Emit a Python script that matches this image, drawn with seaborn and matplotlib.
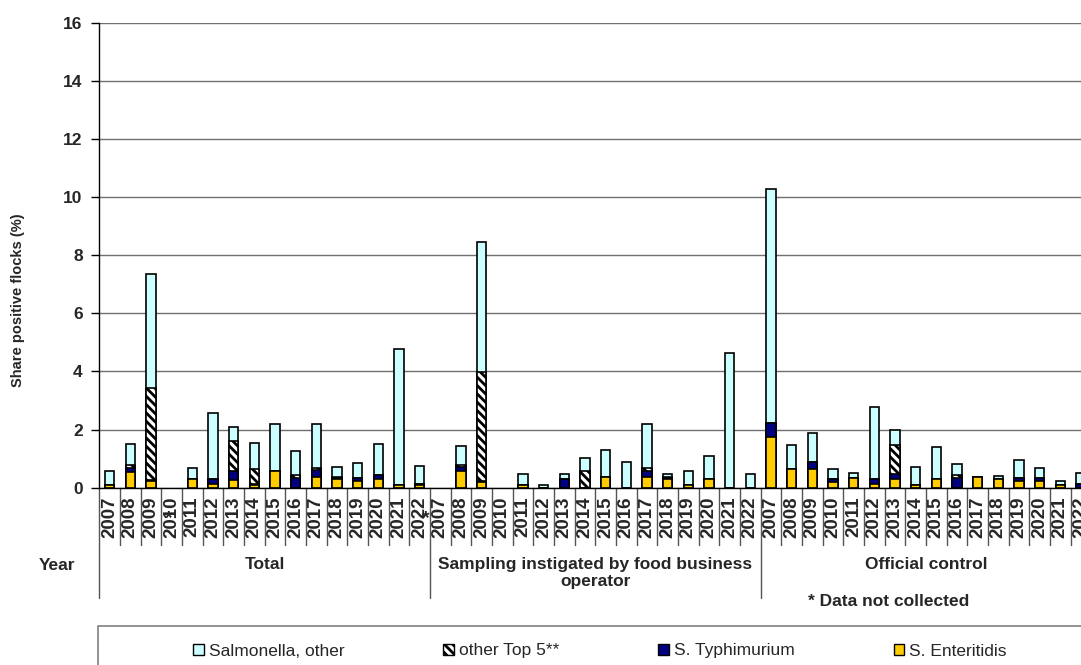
import numpy as np
import pandas as pd
import seaborn as sns
import matplotlib.pyplot as plt
import matplotlib.transforms as mtransforms
from matplotlib.patches import Patch, Rectangle
from matplotlib import rcParams

nan = np.nan
years = [str(y) for y in range(2007, 2023)]
groups = ["Total", "Sampling instigated by food business\noperator", "Official control"]
series = ["Salmonella, other", "other Top 5**", "S. Typhimurium", "S. Enteritidis"]

# share positive flocks (%), one list per group, 2007-2022
ent_total = [0.08, 0.54, 0.22, nan, 0.30, 0.13, 0.27, 0.10, 0.57, 0.00, 0.37, 0.30, 0.22, 0.31, 0.10, 0.10]
typh_total = [0.03, 0.14, 0.05, nan, 0.00, 0.17, 0.30, 0.03, 0.00, 0.34, 0.25, 0.02, 0.11, 0.14, 0.00, 0.03]
top5_total = [0.00, 0.09, 3.16, nan, 0.00, 0.00, 1.02, 0.51, 0.00, 0.09, 0.06, 0.04, 0.00, 0.00, 0.00, 0.00]
other_total = [0.47, 0.72, 3.93, nan, 0.38, 2.27, 0.50, 0.91, 1.62, 0.82, 1.52, 0.34, 0.52, 1.06, 4.66, 0.60]

ent_fbo = [nan, 0.56, 0.18, nan, 0.09, 0.00, 0.00, 0.00, 0.38, 0.00, 0.37, 0.30, 0.09, 0.30, 0.00, 0.00]
typh_fbo = [nan, 0.15, 0.05, nan, 0.00, 0.00, 0.30, 0.00, 0.00, 0.00, 0.21, 0.03, 0.00, 0.00, 0.00, 0.00]
top5_fbo = [nan, 0.08, 3.76, nan, 0.00, 0.00, 0.00, 0.58, 0.00, 0.00, 0.10, 0.05, 0.00, 0.00, 0.00, 0.00]
other_fbo = [nan, 0.66, 4.46, nan, 0.38, 0.09, 0.17, 0.43, 0.91, 0.88, 1.51, 0.09, 0.48, 0.78, 4.62, 0.47]

ent_official = [1.76, 0.65, 0.66, 0.18, 0.33, 0.13, 0.30, 0.10, 0.30, 0.00, 0.38, 0.30, 0.22, 0.22, 0.10, 0.00]
typh_official = [0.46, 0.00, 0.23, 0.13, 0.00, 0.17, 0.18, 0.00, 0.00, 0.33, 0.00, 0.00, 0.11, 0.11, 0.00, 0.13]
top5_official = [0.00, 0.00, 0.00, 0.00, 0.00, 0.00, 1.00, 0.00, 0.00, 0.11, 0.00, 0.00, 0.00, 0.00, 0.00, 0.00]
other_official = [8.05, 0.81, 0.99, 0.33, 0.17, 2.49, 0.50, 0.60, 1.10, 0.36, 0.00, 0.09, 0.63, 0.34, 0.14, 0.37]

# years marked "*" (data not collected): (group index, year, label offset)
not_collected = [(0, "2010", -0.15), (1, "2007", -0.7)]

ent = [ent_total, ent_fbo, ent_official]
typh = [typh_total, typh_fbo, typh_official]
top5 = [top5_total, top5_fbo, top5_official]
other = [other_total, other_fbo, other_official]

rows = []
for gi in range(3):
    for i, y in enumerate(years):
        rows.append({"key": f"{gi}-{y}", "year": y, "ent": ent[gi][i], "typh": typh[gi][i],
                     "top5": top5[gi][i], "other": other[gi][i]})
df = pd.DataFrame(rows)
keys = list(df["key"])
df = df.dropna()
df["c_ent"] = df["ent"]
df["c_typh"] = df["c_ent"] + df["typh"]
df["c_top5"] = df["c_typh"] + df["top5"]
df["c_other"] = df["c_top5"] + df["other"]

sns.set_theme(style="white")
rcParams['font.family'] = ['Liberation Sans', 'DejaVu Sans']
rcParams['hatch.linewidth'] = 2.0

fig = plt.figure(figsize=(10.81, 6.65), dpi=100)
W, H = 1081, 665
ax = fig.add_axes([99.3 / W, 1 - 487.7 / H, 1 - 99.3 / W, 465 / H])

colors = ["#CCFFFF", "white", "#000080", "#FFCC00"]
hatches = [None, "\\\\\\\\", None, None]
# overlapping cumulative bars -> stacked look
for col, c, h in zip(["c_other", "c_top5", "c_typh", "c_ent"], colors, hatches):
    sns.barplot(data=df, x="key", y=col, order=keys, color=c, saturation=1, width=0.45,
                edgecolor="black", linewidth=1.2, hatch=h, errorbar=None, ax=ax)

ax.set_ylim(0, 16)
ax.set_xlim(-0.5, 46.88)
ax.set_yticks(range(0, 17, 2))
ax.set_yticklabels([str(v) for v in range(0, 17, 2)], fontsize=12.5, fontweight="bold")
ax.set_xticks(range(len(keys)))
ax.set_xticklabels(years * 3, rotation=90, fontsize=13.5, fontweight="bold")
ax.tick_params(axis="x", length=0, pad=6)
ax.tick_params(axis="y", left=True, length=6, width=1, color="black", pad=6)
ax.set_xlabel("")
ax.set_ylabel("")
ax.yaxis.grid(True, color="#707070", lw=1)
ax.set_axisbelow(True)
for s in ["top", "right"]:
    ax.spines[s].set_visible(False)
for s in ["left", "bottom"]:
    ax.spines[s].set_color("black")
    ax.spines[s].set_linewidth(1)


def y_ax(p):
    return (487.7 - p) / 465


trans = mtransforms.blended_transform_factory(ax.transData, ax.transAxes)
for b in np.arange(-0.5, 48, 1):
    bottom = y_ax(598) if b in (-0.5, 15.5, 31.5, 47.5) else y_ax(545)
    ax.plot([b, b], [0, bottom], transform=trans, clip_on=False, color="#555555", lw=1)

for gi, g in enumerate(groups):
    ax.text(gi * 16 + 7.5, y_ax(557), g, transform=trans, ha="center", va="top",
            fontsize=12.5, fontweight="bold", linespacing=1.15)

for gi, y, off in not_collected:
    ax.text(keys.index(f"{gi}-{y}") + off, y_ax(519), "*", transform=trans, ha="center",
            va="center", fontsize=14, fontweight="bold")

fig.text(18 / W, 1 - 300 / H, "Share positive flocks (%)", rotation=90, ha="center", va="center",
         fontsize=10.5, fontweight="bold")
fig.text(57 / W, 1 - 565 / H, "Year", ha="center", va="center", fontsize=12.5, fontweight="bold")
fig.text(808 / W, 1 - 601 / H, "* Data not collected", ha="left", va="center", fontsize=12.5,
         fontweight="bold")

# legend box (runs off the right and bottom edges like the reference)
fig.patches.append(Rectangle((98 / W, -0.05), 1, 0.05 + 1 - 626 / H, transform=fig.transFigure,
                             fill=False, edgecolor="#808080", lw=1.2, clip_on=False))
handles = [Patch(facecolor=c, edgecolor="black", hatch=h, lw=1) for c, h in zip(colors, hatches)]
fig.legend(handles, series, ncol=4, loc="center", bbox_to_anchor=(600 / W, 1 - 651 / H),
           frameon=False, fontsize=12.5, handlelength=0.6, handleheight=0.6, handletextpad=0.3,
           columnspacing=5.7)

fig.savefig("out.png", dpi=100)
